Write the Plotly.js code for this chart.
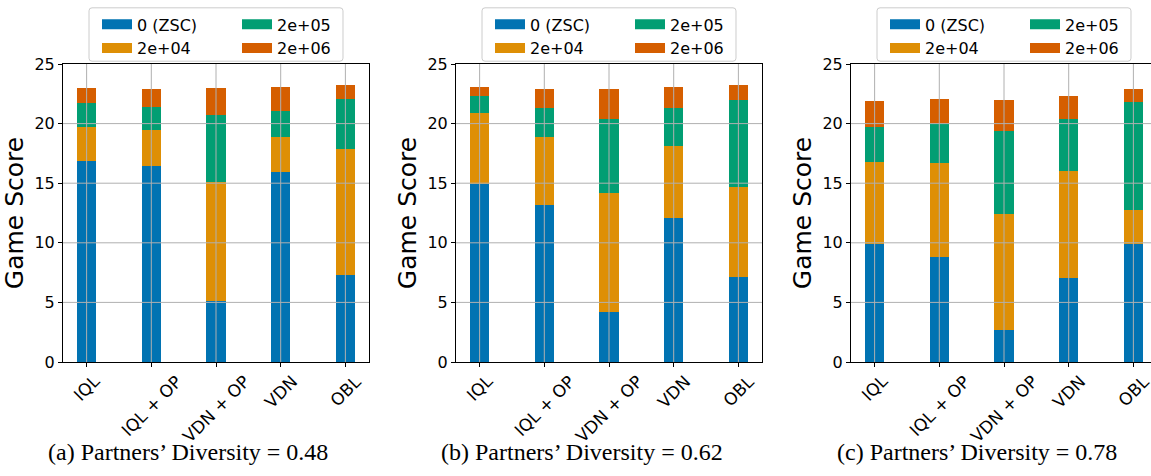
<!DOCTYPE html>
<html>
<head>
<meta charset="utf-8">
<script src="https://cdn.plot.ly/plotly-3.0.1.min.js"></script>
<style>
html,body{margin:0;padding:0;background:#fff;width:1151px;height:476px;overflow:hidden;position:relative;}
.panel{position:absolute;top:0;width:400px;height:476px;}
</style>
</head>
<body>
<div id="p1" class="panel"></div>
<div id="p2" class="panel"></div>
<div id="p3" class="panel"></div>
<script>
// ---- data ----
const categories = ['IQL', 'IQL + OP', 'VDN + OP', 'VDN', 'OBL'];
const seriesNames = ['0 (ZSC)', '2e+04', '2e+05', '2e+06'];
const seriesColors = ['#0173b2', '#de8f05', '#029e73', '#d55e00'];
const yTicks = [0, 5, 10, 15, 20, 25];
const captions = ['(a) Partners’ Diversity = 0.48', '(b) Partners’ Diversity = 0.62', '(c) Partners’ Diversity = 0.78'];

// panel (a) segment heights
const zscA  = [16.84, 16.42, 5.09, 15.92, 7.27];
const s2e4A = [2.86, 3.03, 9.99, 2.94, 10.58];
const s2e5A = [2.01, 1.93, 5.62, 2.18, 4.20];
const s2e6A = [1.26, 1.51, 2.27, 2.01, 1.17];
// panel (b)
const zscB  = [14.94, 13.15, 4.17, 12.06, 7.10];
const s2e4B = [5.93, 5.70, 9.98, 6.04, 7.56];
const s2e5B = [1.45, 2.46, 6.21, 3.21, 7.33];
const s2e6B = [0.73, 1.57, 2.52, 1.74, 1.23];
// panel (c)
const zscC  = [9.90, 8.78, 2.66, 7.02, 9.90];
const s2e4C = [6.86, 7.89, 9.73, 8.98, 2.83];
const s2e5C = [2.93, 3.33, 6.97, 4.36, 9.09];
const s2e6C = [2.18, 2.04, 2.60, 1.93, 1.06];

const panels = [
  {id: 'p1', plotLeft: 62.5, series: [zscA, s2e4A, s2e5A, s2e6A], caption: captions[0], capX: 187},
  {id: 'p2', plotLeft: 456, series: [zscB, s2e4B, s2e5B, s2e6B], caption: captions[1], capX: 582},
  {id: 'p3', plotLeft: 851, series: [zscC, s2e4C, s2e5C, s2e6C], caption: captions[2], capX: 977}
];

const ML = 70, PW = 306, PT = 63.5, PH = 298.2, DIVW = 400, DIVH = 476;
const FONT = 'DejaVu Sans';

panels.forEach(p => {
  const div = document.getElementById(p.id);
  div.style.left = (p.plotLeft - ML) + 'px';

  const traces = [];
  p.series.forEach((vals, i) => {
    traces.push({
      type: 'bar', x: categories, y: vals, name: seriesNames[i],
      marker: {color: seriesColors[i], line: {width: 0}},
      width: 0.3, showlegend: false, hoverinfo: 'skip'
    });
  });
  // legend swatches
  seriesNames.forEach((n, i) => {
    traces.push({
      type: 'scatter', mode: 'lines', x: [null], y: [null], name: n,
      line: {color: seriesColors[i], width: 10},
      legend: i < 2 ? 'legend' : 'legend2', showlegend: true, hoverinfo: 'skip'
    });
  });

  const shapes = [];
  categories.forEach(c => shapes.push({type: 'line', layer: 'above', xref: 'x', yref: 'paper', x0: c, x1: c, y0: 0, y1: 1, line: {color: '#b0b0b0', width: 1}}));
  yTicks.filter(t => t > 0 && t < 25).forEach(t => shapes.push({type: 'line', layer: 'above', xref: 'paper', yref: 'y', x0: 0, x1: 1, y0: t, y1: t, line: {color: '#b0b0b0', width: 1}}));
  const fx0 = 0.085, fx1 = 0.915, fy0 = 1.0094, fy1 = 1.1885, rx = 3 / PW, ry = 3 / PH;
  const path = `M${fx0 + rx},${fy0} L${fx1 - rx},${fy0} Q${fx1},${fy0} ${fx1},${fy0 + ry} L${fx1},${fy1 - ry} Q${fx1},${fy1} ${fx1 - rx},${fy1} L${fx0 + rx},${fy1} Q${fx0},${fy1} ${fx0},${fy1 - ry} L${fx0},${fy0 + ry} Q${fx0},${fy0} ${fx0 + rx},${fy0} Z`;
  shapes.push({type: 'path', path: path, xref: 'paper', yref: 'paper', layer: 'above', line: {color: '#cccccc', width: 1}, fillcolor: 'rgba(255,255,255,0.8)'});

  const annotations = categories.map(c => ({
    xref: 'x', yref: 'paper', x: c, y: -0.022, text: c, showarrow: false,
    textangle: -45, xanchor: 'center', yanchor: 'top',
    font: {family: FONT, size: 17, color: '#000'}
  }));
  annotations.push({
    xref: 'paper', yref: 'paper', x: (p.capX - p.plotLeft) / PW, y: -(452 - PT - PH) / PH,
    text: p.caption, showarrow: false, xanchor: 'center', yanchor: 'middle',
    font: {family: 'Liberation Serif', size: 24, color: '#000'}
  });

  const legendCommon = {
    orientation: 'v', bgcolor: 'rgba(0,0,0,0)', borderwidth: 0,
    font: {family: FONT, size: 16, color: '#000'}, itemwidth: 30,
    xanchor: 'left', yanchor: 'top', traceorder: 'normal', tracegroupgap: 0
  };

  const layout = {
    width: DIVW, height: DIVH,
    margin: {l: ML, r: DIVW - ML - PW, t: PT, b: DIVH - PT - PH, autoexpand: false},
    paper_bgcolor: 'rgba(0,0,0,0)', plot_bgcolor: '#fff',
    barmode: 'stack', bargap: 0,
    font: {family: FONT, size: 16, color: '#000'},
    xaxis: {
      type: 'category', range: [-0.365, 4.365], showticklabels: false,
      ticks: 'outside', ticklen: 4, tickwidth: 1, tickcolor: '#000',
      showgrid: false, zeroline: false, showline: true, mirror: true, linecolor: '#000', linewidth: 1
    },
    yaxis: {
      range: [0, 25], tickvals: yTicks, ticks: 'outside', ticklen: 4, tickwidth: 1, tickcolor: '#000',
      tickfont: {family: FONT, size: 16, color: '#000'},
      showgrid: false, zeroline: false, showline: true, mirror: true, linecolor: '#000', linewidth: 1,
      automargin: true,
      title: {text: 'Game Score', font: {family: FONT, size: 25, color: '#000'}, standoff: 3}
    },
    legend: Object.assign({}, legendCommon, {x: (490 - 456) / PW, y: 1.19}),
    legend2: Object.assign({}, legendCommon, {x: (630 - 456) / PW, y: 1.19}),
    shapes: shapes,
    annotations: annotations,
    showlegend: true
  };

  Plotly.newPlot(div, traces, layout, {staticPlot: true, displayModeBar: false});
});
</script>
</body>
</html>
